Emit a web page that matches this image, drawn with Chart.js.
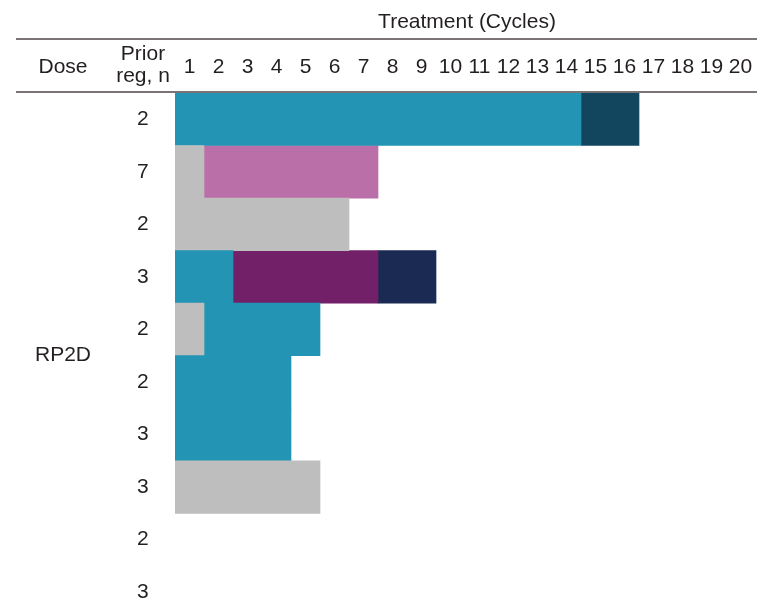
<!DOCTYPE html>
<html>
<head>
<meta charset="utf-8">
<script src="https://cdn.jsdelivr.net/npm/chart.js@4"></script>
<style>
  html, body { margin: 0; padding: 0; background: #fff; overflow: hidden; }
  #wrap { position: relative; width: 777px; height: 631px; }
</style>
</head>
<body>
<div id="wrap"><canvas id="swimmer"></canvas></div>
<script>
// rows, top to bottom
const priorReg = ["2", "7", "2", "3", "2", "2", "3", "3", "2", "3"];
const cycleLabels = ["1","2","3","4","5","6","7","8","9","10","11","12","13","14","15","16","17","18","19","20"];

// each patient bar is up to 3 consecutive segments (cycles), with a status per segment
const seg1 = [14, 1, 6, 2, 1, 4, 4, 5, 0, 0];
const seg1Kind = ["A", "G", "G", "A", "G", "A", "A", "G", null, null];
const seg2 = [2, 6, 0, 5, 4, 0, 0, 0, 0, 0];
const seg2Kind = ["D", "P", null, "M", "A", null, null, null, null, null];
const seg3 = [0, 0, 0, 2, 0, 0, 0, 0, 0, 0];
const seg3Kind = [null, null, null, "N", null, null, null, null, null, null];

const palette = {
  A: "#2394b3",
  D: "#12465e",
  G: "#bebebe",
  P: "#ba6fa8",
  M: "#722068",
  N: "#1b2a52"
};
const FONT = "'Liberation Sans', Arial, sans-serif";
const lineColor = "#7a7474";

function colorsFor(kinds) {
  return kinds.map(k => k ? palette[k] : "rgba(0,0,0,0)");
}

// header text and rules
const headerPlugin = {
  id: "header",
  afterDraw(chart) {
    const ctx = chart.ctx;
    ctx.save();
    ctx.strokeStyle = lineColor;
    ctx.lineWidth = 2;
    ctx.beginPath();
    ctx.moveTo(16, 39); ctx.lineTo(757, 39);
    ctx.moveTo(16, 92); ctx.lineTo(757, 92);
    ctx.stroke();

    ctx.fillStyle = "#231f20";
    ctx.font = "21px " + FONT;
    ctx.textAlign = "center";
    ctx.textBaseline = "middle";
    ctx.fillText("Treatment (Cycles)", 467, 22);
    ctx.fillText("Dose", 63, 67);
    ctx.fillText("Prior", 143, 54);
    ctx.fillText("reg, n", 143, 76);

    const y = chart.scales.y;
    const mid = (y.getPixelForValue(4) + y.getPixelForValue(5)) / 2;
    ctx.fillText("RP2D", 63, mid);
    ctx.restore();
  }
};

const ctx = document.getElementById("swimmer").getContext("2d");
new Chart(ctx, {
  type: "bar",
  data: {
    labels: priorReg,
    datasets: [
      { data: seg1, backgroundColor: colorsFor(seg1Kind) },
      { data: seg2, backgroundColor: colorsFor(seg2Kind) },
      { data: seg3, backgroundColor: colorsFor(seg3Kind) }
    ]
  },
  options: {
    indexAxis: "y",
    responsive: true,
    maintainAspectRatio: false,
    animation: false,
    layout: { padding: { left: 137, right: 22, top: 0, bottom: 4 } },
    datasets: { bar: { barPercentage: 1, categoryPercentage: 1, borderWidth: 0 } },
    plugins: { legend: { display: false }, tooltip: { enabled: false } },
    scales: {
      x: {
        position: "top",
        stacked: true,
        min: 0,
        max: 20,
        grid: { display: false, drawTicks: false },
        border: { display: false },
        afterBuildTicks: scale => {
          scale.ticks = cycleLabels.map((c, i) => ({ value: i + 0.5 }));
        },
        afterFit: scale => { scale.height = 93; },
        ticks: {
          autoSkip: false,
          maxRotation: 0,
          padding: 13,
          color: "#231f20",
          font: { family: FONT, size: 21 },
          callback: (v, i) => cycleLabels[i]
        }
      },
      y: {
        stacked: true,
        grid: { display: false, drawTicks: false },
        border: { display: false },
        afterFit: scale => { scale.width = 38; },
        ticks: {
          padding: 0,
          crossAlign: "far",
          color: "#231f20",
          font: { family: FONT, size: 21 }
        }
      }
    }
  },
  plugins: [headerPlugin]
});
</script>
</body>
</html>
